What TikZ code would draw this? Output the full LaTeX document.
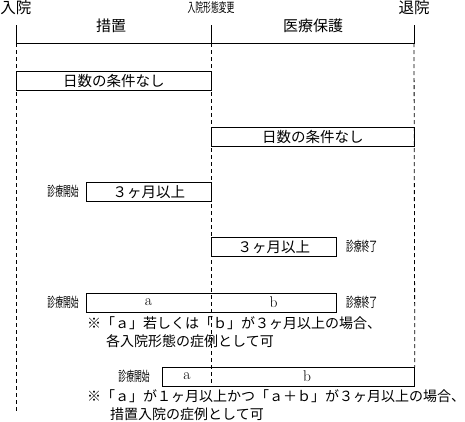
\documentclass[tikz,border=0pt]{standalone}
\usepackage{fontspec}
\usepackage{graphicx}
\newfontfamily\jp{Noto Sans CJK JP}
\usetikzlibrary{positioning}

\begin{document}
\begin{tikzpicture}[x=1pt, y=-1pt,
    period/.style={draw, line width=0.8pt, minimum height=18.5pt, inner sep=0pt, anchor=north west, font=\jp\fontsize{14.5}{14.5}\selectfont},
    part/.style={inner sep=0pt, font=\fontsize{15.5}{15.5}\selectfont},
    note/.style={anchor=west, inner sep=0pt, font=\jp\fontsize{14}{14}\selectfont},
    head/.style={inner sep=0pt, font=\jp\fontsize{15.5}{15.5}\selectfont},
    tag/.style={inner sep=0pt, font=\jp\fontsize{13.5}{13.5}\selectfont},
    guide/.style={line width=0.8pt, dash pattern=on 4pt off 3pt}]
    \useasboundingbox (0,0) rectangle (465,421);

    % time axis
    \coordinate (in) at (16,43);
    \coordinate (change) at (211,43);
    \coordinate (out) at (414,43);
    \coordinate (intop) at (16,25);
    \coordinate (outtop) at (414,25);
    \coordinate (changetop) at (211,25);
    \draw[line width=0.8pt] (intop) -- (in) -- (out) -- (outtop);
    \draw[line width=0.8pt] (changetop) -- (change);

    \node[head] (inlabel) at (16,8) {入院};
    \node[head] (outlabel) at (414,8) {退院};
    \node[tag] (changelabel) at (211,8) {\scalebox{0.6}[1]{\fontsize{13}{13}\selectfont 入院形態変更}};
    \node[head, font=\jp\fontsize{15}{15}\selectfont] (sochi) at (111,26) {措置};
    \node[head, font=\jp\fontsize{15}{15}\selectfont] (iryo) at (313,26) {医療保護};

    % periods
    \node[period, minimum width=195pt] (free1) at (16,71) {日数の条件なし};
    \node[period, minimum width=203pt] (free2) at (211,127) {日数の条件なし};
    \node[period, minimum width=125pt] (three1) at (86,182) {３ヶ月以上};
    \node[period, minimum width=125pt] (three2) at (211,237) {３ヶ月以上};
    \node[period, minimum width=250pt] (both1) at (86,293) {};
    \node[period, minimum width=252pt] (both2) at (162,367) {};

    \node[part] (a1) at (148.5,302) {a};
    \node[part] (b1) at (273.5,302) {b};
    \node[part] (a2) at (187,376) {a};
    \node[part] (b2) at (307,376) {b};

    \node[tag, left=7pt of three1] (start1) {\scalebox{0.58}[1]{診療開始}};
    \node[tag, right=9pt of three2] (end1) {\scalebox{0.58}[1]{診療終了}};
    \node[tag, left=7pt of both1] (start2) {\scalebox{0.58}[1]{診療開始}};
    \node[tag, right=9pt of both1] (end2) {\scalebox{0.58}[1]{診療終了}};
    \node[tag, left=12pt of both2] (start3) {\scalebox{0.58}[1]{診療開始}};

    % dashed guides
    \draw[guide] (in) -- (in |- 0,412);
    \draw[guide] (change) -- (change |- both2.south);
    \draw[guide] (out) -- (both2.north east);

    % notes
    \node[note] (note1) at (87,323) {※「ａ」若しくは「ｂ」が３ヶ月以上の場合、};
    \node[note] (note2) at (106,341) {各入院形態の症例として可};
    \node[note] (note3) at (87,396) {※「ａ」が１ヶ月以上かつ「ａ＋ｂ」が３ヶ月以上の場合、};
    \node[note] (note4) at (110,414) {措置入院の症例として可};
\end{tikzpicture}
\end{document}
